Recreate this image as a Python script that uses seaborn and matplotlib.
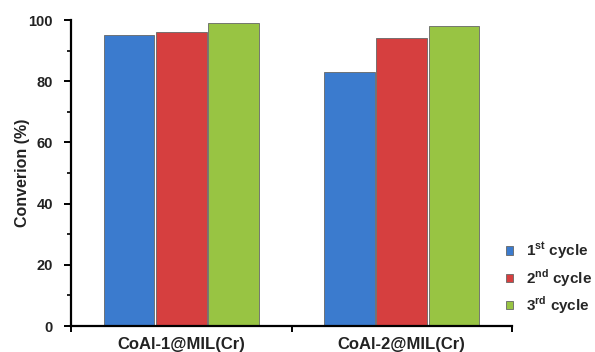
import numpy as np
import pandas as pd
import matplotlib
matplotlib.use("Agg")
import matplotlib.pyplot as plt
import seaborn as sns
from matplotlib.ticker import MultipleLocator, FixedLocator

# Catalysts and conversion per recycling run
catalysts = ["CoAl-1@MIL(Cr)", "CoAl-2@MIL(Cr)"]
cycles = [r"1$^{\mathbf{st}}$ cycle", r"2$^{\mathbf{nd}}$ cycle", r"3$^{\mathbf{rd}}$ cycle"]
cycle1 = [95, 83]
cycle2 = [96, 94]
cycle3 = [99, 98]
colors = ["#3B7BCE", "#D63F3F", "#98C443"]

df = pd.DataFrame({
    "catalyst": catalysts * 3,
    "cycle": [cycles[0]] * 2 + [cycles[1]] * 2 + [cycles[2]] * 2,
    "conversion": cycle1 + cycle2 + cycle3,
})

sns.set_theme(style="white")
plt.rcParams["font.family"] = ["Liberation Sans", "DejaVu Sans"]
plt.rcParams["font.weight"] = "bold"
plt.rcParams["mathtext.fontset"] = "custom"
plt.rcParams["mathtext.rm"] = "Liberation Sans:bold"
plt.rcParams["mathtext.bf"] = "Liberation Sans:bold"

fig = plt.figure(figsize=(5.95, 3.52), dpi=100)
ax = fig.add_axes([71 / 595, 26 / 352, (512 - 71) / 595, (326 - 20) / 352])

sns.barplot(data=df, x="catalyst", y="conversion", hue="cycle",
            hue_order=cycles, order=catalysts, palette=colors, saturation=1,
            width=0.71, gap=0.03, edgecolor="#666666", linewidth=0.6,
            ax=ax, legend=True)

ax.set_xlim(-0.5, 1.5)
ax.set_ylim(0, 100)
ax.yaxis.set_major_locator(MultipleLocator(20))
ax.yaxis.set_minor_locator(MultipleLocator(10))
ax.xaxis.set_major_locator(FixedLocator([-0.5, 0.5, 1.5]))
ax.xaxis.set_minor_locator(FixedLocator([0, 1]))
ax.set_xticklabels([], minor=False)
ax.set_xticklabels(catalysts, minor=True, fontsize=12, fontweight="bold", color="#222222")
ax.tick_params(axis="x", which="major", direction="out", length=4, width=1.4, color="black", bottom=True)
ax.tick_params(axis="x", which="minor", length=0, pad=8)
ax.tick_params(axis="y", which="major", direction="out", length=5, width=1.4, color="black", left=True,
               labelsize=10.5, pad=8)
ax.tick_params(axis="y", which="minor", direction="out", length=3, width=1.2, color="black", left=True)
for lab in ax.get_yticklabels():
    lab.set_fontweight("bold")
    lab.set_color("#222222")

ax.set_xlabel("")
ax.set_ylabel("Converion (%)", fontsize=11.5, fontweight="bold", color="#222222", labelpad=-1)

sns.despine(ax=ax)
for side in ("left", "bottom"):
    ax.spines[side].set_color("black")
    ax.spines[side].set_linewidth(1.6)

ax.legend(loc="center left", bbox_to_anchor=(492 / 595, (352 - 278) / 352),
          bbox_transform=fig.transFigure, frameon=False,
          handlelength=0.5, handleheight=0.5, handletextpad=0.8,
          labelspacing=0.35, prop={"weight": "bold", "size": 11})

fig.savefig("out.png", dpi=100)
